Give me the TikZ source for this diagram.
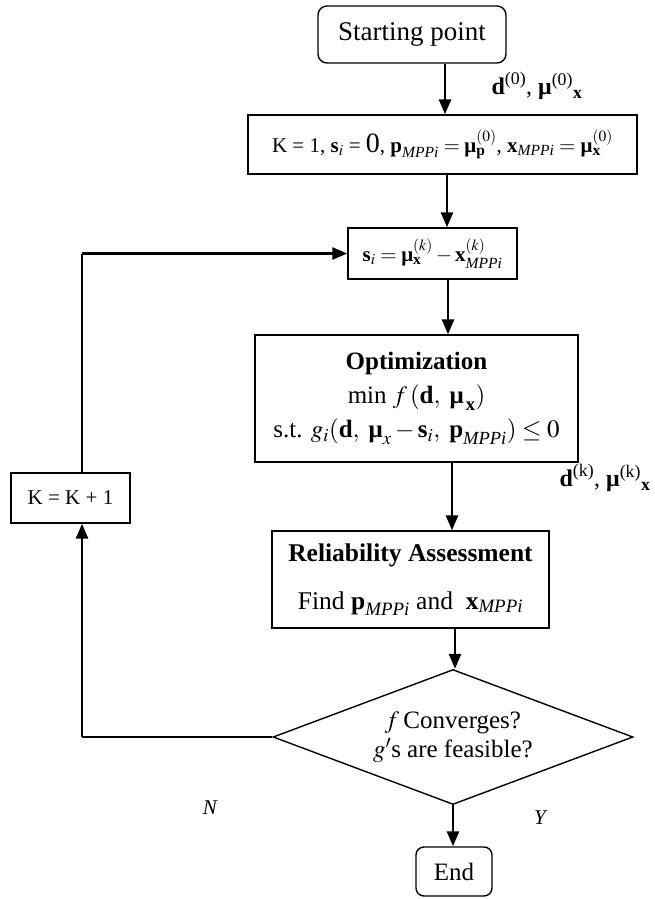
\documentclass[tikz,border=0pt]{standalone}
\usepackage{amsmath}
\usepackage{mathptmx}
\usepackage{fontspec}
\setmainfont{Liberation Serif}
\usetikzlibrary{shapes.geometric,arrows.meta}

% bold vector symbols and the MPP subscript
\newcommand{\bmu}{\text{\bfseries μ}}
\newcommand{\vb}[1]{\text{\bfseries #1}}
\newcommand{\mpp}{\text{\itshape MPPi}}

\begin{document}
\begin{tikzpicture}[x=1pt,y=-1pt,
  box/.style={draw,line width=1.4pt,inner sep=0pt,align=center},
  arr/.style={line width=2.6pt,-{Triangle[length=15pt,width=12pt]}},
  thinline/.style={line width=1.4pt},
  big/.style={font=\fontsize{25}{34}\selectfont},
  mid/.style={font=\fontsize{21}{25}\selectfont},
  lbl/.style={font=\fontsize{24}{28}\selectfont},
  yn/.style={font=\fontsize{21}{25}\selectfont\itshape}]
\useasboundingbox (0,0) rectangle (655,899);

% process blocks
\node[box,rounded corners=9pt,minimum width=188pt,minimum height=57pt,font=\fontsize{27}{30}\selectfont] (start) at (412,34.5) {Starting point};
\node[box,minimum width=389pt,minimum height=59pt,mid] (init) at (442.5,144.5)
  {K = 1, $\vb{s}_i$ = {\fontsize{28}{30}\selectfont 0}, $\vb{p}_{\mpp} = \bmu^{(0)}_{\vb{p}}$, $\vb{x}_{\mpp} =$ $\bmu^{(0)}_{\vb{x}}$};
\node[box,minimum width=169pt,minimum height=51pt,mid] (upd) at (432.5,253.5)
  {$\vb{s}_i = \bmu^{(k)}_{\vb{x}} - \vb{x}^{(k)}_{\mpp}$};
\node[box,minimum width=323pt,minimum height=127pt,big] (opt) at (416.5,398.5)
  {\textbf{Optimization}\\min $f\,(\vb{d},\ \bmu_{\,\vb{x}})$\\s.t. $g_i(\vb{d},\ \bmu_x - \vb{s}_i,\ \vb{p}_{\mpp})\le 0$};
\node[box,minimum width=277pt,minimum height=97pt,font=\fontsize{25.5}{48}\selectfont] (rel) at (410.5,579.5)
  {\textbf{Reliability Assessment}\\Find $\vb{p}_{\mpp}$ and \ $\vb{x}_{\mpp}$};
\node[draw,line width=1.4pt,diamond,aspect=2.67,minimum width=360pt,minimum height=135pt,inner sep=0pt,align=center,font=\fontsize{25}{29}\selectfont] (dec) at (453,737)
  {$f$\,Converges?\\$g'$s are feasible?};
\node[box,rounded corners=8pt,minimum width=76pt,minimum height=49pt,big] (end) at (454,871.5) {End};
\node[box,minimum width=119pt,minimum height=50pt,mid] (kinc) at (70.5,498) {K = K + 1};

% edge labels
\node[lbl] (lab0) at (537,86) {$\vb{d}^{\text{(0)}}$, $\bmu^{\text{(0)}}{}_{\vb{x}}$};
\node[lbl] (labk) at (605,478) {$\vb{d}^{\text{(k)}}$, $\bmu^{\text{(k)}}{}_{\vb{x}}$};
\node[yn] (no) at (210,808) {N};
\node[yn] (yes) at (540,818) {Y};

% arrow columns
\coordinate (c1) at (445,0);
\coordinate (c2) at (447,0);
\coordinate (c3) at (448,0);
\coordinate (c4) at (452,0);
\coordinate (c5) at (455,0);
\coordinate (c6) at (453,0);
\coordinate (lx) at (82,0);

\draw[arr] (start.south -| c1) -- (init.north -| c1);
\draw[arr] (init.south -| c2) -- (upd.north -| c2);
\draw[arr] (upd.south -| c3) -- (opt.north -| c3);
\draw[arr] (opt.south -| c4) -- (rel.north -| c4);
\draw[arr] (rel.south -| c5) -- (dec.north -| c5);
\draw[arr] (dec.south -| c6) -- (end.north -| c6);

% loop back for the next iteration
\draw[thinline] (dec.west) -- (dec.west -| lx);
\draw[arr] (dec.west -| lx) -- (kinc.south -| lx);
\draw[thinline] (kinc.north -| lx) -- (upd.west -| lx);
\draw[arr] (upd.west -| lx) -- (upd.west);
\end{tikzpicture}
\end{document}
